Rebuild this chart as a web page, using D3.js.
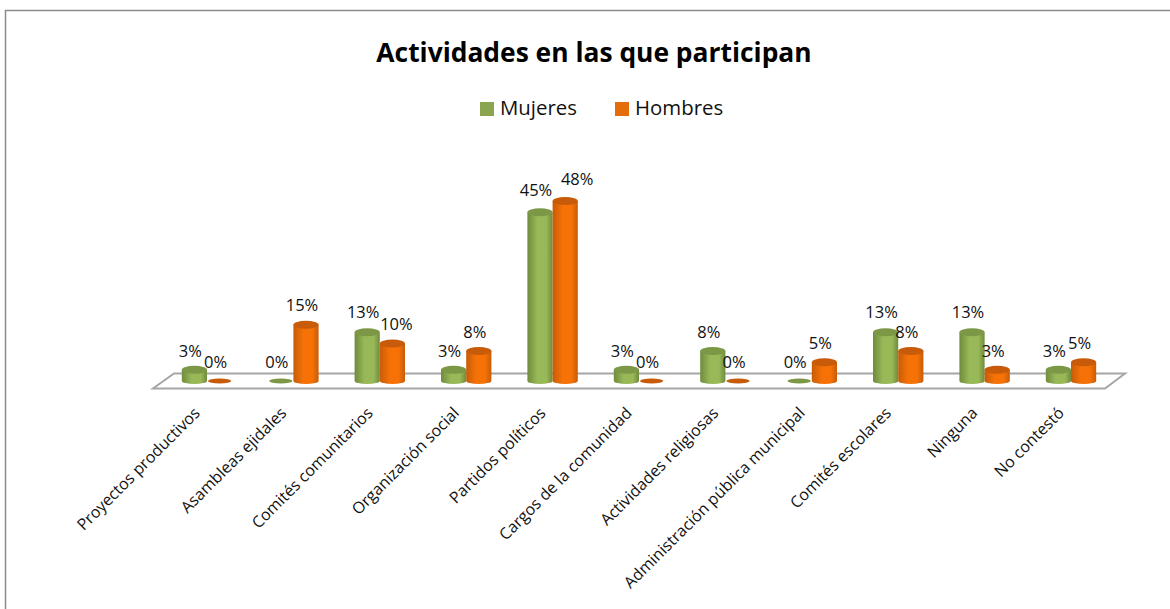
<!DOCTYPE html>
<html>
<head>
<meta charset="utf-8">
<script src="https://cdnjs.cloudflare.com/ajax/libs/d3/7.8.5/d3.min.js"></script>
<style>
  html, body { margin: 0; padding: 0; background: #fff; }
  svg { display: block; font-family: "Open Sans", Lato, sans-serif; }
</style>
</head>
<body>
<div id="graph"></div>
<script>
var categories = ["Proyectos productivos", "Asambleas ejidales", "Comités comunitarios", "Organización social",
  "Partidos políticos", "Cargos de la comunidad", "Actividades religiosas", "Administración pública municipal",
  "Comités escolares", "Ninguna", "No contestó"];
var seriesNames = ["Mujeres", "Hombres"];
var mujeres = [3, 0, 13, 3, 45, 3, 8, 0, 13, 13, 3];
var hombres = [0, 15, 10, 8, 48, 0, 0, 5, 8, 3, 5];
var chartTitle = "Actividades en las que participan";

var width = 1170, height = 609;
var svg = d3.select("#graph").append("svg").attr("width", width).attr("height", height);

// chart frame, only top and left show in the picture
svg.append("path")
  .attr("d", "M5.5,609V10.5H1170")
  .attr("fill", "none")
  .attr("stroke", "#8c8c8c")
  .attr("stroke-width", 1.5);

var x = d3.scaleBand().domain(categories).range([163.8, 1114.2]).paddingInner(0.4167).paddingOuter(0.2083);
var xSeries = d3.scaleBand().domain(seriesNames).range([0, x.bandwidth()]);
var y = d3.scaleLinear().domain([0, 48]).range([381, 201]);

var defs = svg.append("defs");
function gradient(id, edge, mid) {
  var g = defs.append("linearGradient").attr("id", id);
  g.append("stop").attr("offset", "0%").attr("stop-color", edge);
  g.append("stop").attr("offset", "40%").attr("stop-color", mid);
  g.append("stop").attr("offset", "75%").attr("stop-color", mid);
  g.append("stop").attr("offset", "100%").attr("stop-color", edge);
}
gradient("cyl-0", "#6f8b3c", "#99b958");
gradient("cyl-1", "#c65c08", "#f67207");
var topColor = ["#7c9846", "#c75b0a"];

// floor
svg.append("path")
  .attr("d", "M153,388.5H1105L1125,373.5H174Z")
  .attr("fill", "#fff")
  .attr("stroke", "#a6a6a6")
  .attr("stroke-width", 2);

// cylinders
var rows = [mujeres, hombres];
rows.forEach(function(values, s) {
  var g = svg.append("g").attr("class", "series-" + s);
  values.forEach(function(v, i) {
    var left = x(categories[i]) + xSeries(seriesNames[s]);
    var w = xSeries.bandwidth();
    var rx = w / 2;
    var base = y(0), top = y(v);
    if (v === 0) {
      g.append("ellipse").attr("cx", left + rx).attr("cy", base)
        .attr("rx", rx - 1).attr("ry", 2.5).attr("fill", topColor[s]);
      return;
    }
    g.append("path")
      .attr("d", "M" + left + "," + top + "V" + base +
        "A" + rx + ",3 0 0 0 " + (left + w) + "," + base + "V" + top + "Z")
      .attr("fill", "url(#cyl-" + s + ")");
    g.append("ellipse").attr("cx", left + rx).attr("cy", top)
      .attr("rx", rx).attr("ry", 4).attr("fill", topColor[s]);
  });
});

// value labels sit left of the bars, two of them were moved by hand in the original
rows.forEach(function(values, s) {
  svg.append("g").selectAll("text")
    .data(values)
    .join("text")
    .attr("x", function(d, i) {
      var cx = x(categories[i]) + xSeries(seriesNames[s]) + xSeries.bandwidth() / 2;
      if (s === 1 && i === 4) return cx + 12;
      if (s === 1 && i === 2) return cx + 4;
      return cx - 4;
    })
    .attr("y", function(d) { return y(d) - 13 - d / 16; })
    .attr("text-anchor", "middle")
    .attr("font-size", 16.5)
    .attr("fill", "#111")
    .text(function(d) { return d + "%"; });
});

// category axis
var axis = svg.append("g")
  .attr("transform", "translate(0,396)")
  .call(d3.axisBottom(x).tickSize(0).tickPadding(0));
axis.select(".domain").remove();
axis.selectAll("text")
  .attr("font-family", "\"Open Sans\", sans-serif")
  .attr("font-size", 16)
  .attr("fill", "#111")
  .attr("text-anchor", "end")
  .attr("dy", 0)
  .attr("transform", "translate(-6,18) rotate(-45)");

// title
svg.append("text")
  .attr("x", 594).attr("y", 62)
  .attr("text-anchor", "middle")
  .attr("font-size", 26.4)
  .attr("font-weight", 700)
  .attr("fill", "#000")
  .text(chartTitle);

// legend
var legendColor = d3.scaleOrdinal().domain(seriesNames).range(["#8ba54f", "#e46c0a"]);
var legendX = d3.scaleOrdinal().domain(seriesNames).range([480, 615]);
var legend = svg.append("g").selectAll("g")
  .data(seriesNames)
  .join("g")
  .attr("transform", function(d) { return "translate(" + legendX(d) + ",102)"; });
legend.append("rect").attr("width", 14).attr("height", 14)
  .attr("fill", function(d) { return legendColor(d); });
legend.append("text")
  .attr("x", 20).attr("y", 13)
  .attr("font-size", 20.4)
  .attr("fill", "#111")
  .text(function(d) { return d; });
</script>
</body>
</html>
